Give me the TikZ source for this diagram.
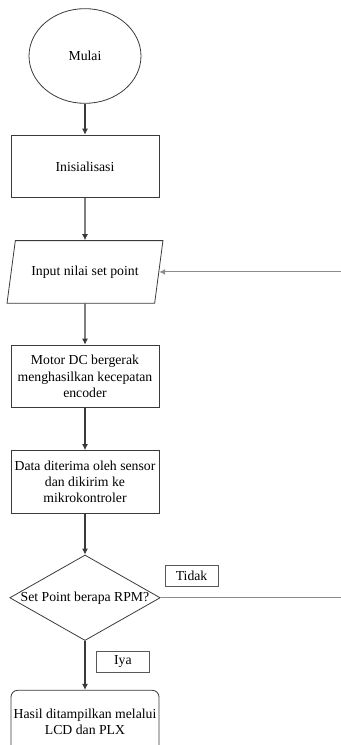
\documentclass[tikz,border=0pt]{standalone}
\usepackage{fontspec}
\setmainfont{Liberation Serif}
\usepackage{tikz}
\usetikzlibrary{positioning, arrows.meta, shapes.geometric}
\definecolor{edge}{HTML}{3A3A3A}
\definecolor{loopline}{HTML}{8C8C8C}
\newcommand{\boxfont}{\fontsize{10.3}{12.2}\selectfont}
\tikzset{
  term/.style    = {ellipse, draw=edge, semithick, minimum width=84pt,
                    minimum height=71pt, font=\boxfont},
  proc/.style    = {rectangle, draw=edge, semithick, minimum width=111pt,
                    minimum height=47pt, inner sep=1pt, align=center, font=\boxfont},
  io/.style      = {trapezium, trapezium left angle=72, trapezium right angle=108,
                    trapezium stretches=true, draw=edge, semithick,
                    minimum width=117.75pt, minimum height=47pt, font=\boxfont},
  cond/.style    = {diamond, draw=edge, semithick, aspect=1.76, inner sep=0pt,
                    minimum width=111pt, minimum height=63pt, font=\boxfont},
  finish/.style  = {rectangle, rounded corners=5pt, draw=edge, semithick,
                    minimum width=111pt, minimum height=47pt, inner sep=1pt,
                    align=center, font=\boxfont},
  tag/.style     = {rectangle, draw=edge!85, thin, minimum width=40pt,
                    minimum height=15.75pt, inner sep=1pt, font=\boxfont},
  arr/.style     = {-{Latex[length=4.5pt,width=4.5pt]}, thick, draw=edge},
  back/.style    = {thick, draw=loopline},
}
\begin{document}
\begin{tikzpicture}[x=0.75pt, y=-0.75pt]
  \useasboundingbox (0,0) rectangle (341,745);

  \node[term] (start) at (85,56) {Mulai};
  \node[proc, below=23.25pt of start] (init) {Inisialisasi};
  \node[io, below=31.5pt of init] (input) {Input nilai set point};
  \node[proc, below=30.75pt of input] (motor)
       {Motor DC bergerak\\menghasilkan kecepatan\\encoder};
  \node[proc, below=31.5pt of motor] (data)
       {Data diterima oleh sensor\\dan dikirim ke\\mikrokontroler};
  \node[cond, below=30.75pt of data] (check) {Set Point berapa RPM?};
  \node[finish, below=36.75pt of check] (show)
       {Hasil ditampilkan melalui\\LCD dan PLX};

  \node[tag, above right=8.25pt and 3pt of check.east] (no) {Tidak};
  \node[tag, below right=7.5pt and 8.25pt of check.south] (yes) {Iya};

  \coordinate (rim) at (341,0);
  \coordinate (backin) at (input.east -| rim);
  \coordinate (backout) at (check.east -| rim);

  \draw[arr] (start) -- (init);
  \draw[arr] (init) -- (input);
  \draw[arr] (input) -- (motor);
  \draw[arr] (motor) -- (data);
  \draw[arr] (data) -- (check);
  \draw[arr] (check) -- (show);
  \draw[back] (check.east) -- (backout);
  \draw[back, -{Latex[length=4.5pt,width=4.5pt]}] (backin) -- (input.east);

\end{tikzpicture}
\end{document}
